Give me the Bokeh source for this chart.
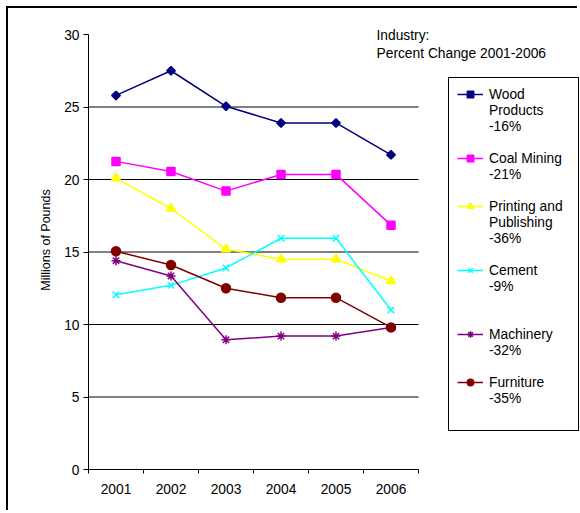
import math
from bokeh.plotting import figure
from bokeh.models import Range1d, FixedTicker, Legend, LegendItem, Label
from bokeh.embed import file_html
from bokeh.resources import INLINE

years = ["2001", "2002", "2003", "2004", "2005", "2006"]
wood = [25.8, 27.5, 25.05, 23.9, 23.9, 21.7]
coal = [21.25, 20.55, 19.2, 20.35, 20.35, 16.85]
printing = [20.1, 18.0, 15.2, 14.5, 14.5, 13.0]
cement = [12.05, 12.7, 13.9, 15.95, 15.95, 11.0]
machinery = [14.4, 13.35, 8.95, 9.2, 9.2, 9.8]
furniture = [15.05, 14.1, 12.5, 11.85, 11.85, 9.8]

legend_labels = ["Wood\nProducts\n-16%", "Coal Mining\n-21%", "Printing and\u00a0\u00a0\nPublishing\n-36%",
                 "Cement\n-9%", "Machinery\n-32%", "Furniture\n-35%"]
y_ticks = [0, 5, 10, 15, 20, 25, 30]
grid_ticks = [5, 10, 15, 20, 25]
y_max = 30

FONT = "Liberation Sans"
FS = "13.8px"

# layout (canvas pixels; canvas starts at page (8, 8))
W, H = 571, 504
LEFT, TOP, AXIS_Y, Y30 = 80, 2, 461, 26
CAT_W = 55
n = len(years)
x_end = (W - LEFT) / CAT_W
y_end = y_max * (AXIS_Y - TOP) / (AXIS_Y - Y30)

p = figure(width=W, height=H, output_backend="svg", toolbar_location=None,
           x_range=Range1d(0, x_end), y_range=Range1d(0, y_end),
           min_border_left=LEFT, min_border_right=0, min_border_top=TOP,
           min_border_bottom=H - AXIS_Y)
p.outline_line_color = None
p.background_fill_color = "white"
p.border_fill_color = "white"
p.styles = {"border-left": "2px solid black", "border-top": "2px solid black",
            "margin-left": "6px", "margin-top": "6px"}

centres = [i + 0.5 for i in range(n)]

xa = p.xaxis[0]
xa.bounds = (0, n)
xa.ticker = FixedTicker(ticks=centres, minor_ticks=list(range(n + 1)))
xa.major_label_overrides = {c: y for c, y in zip(centres, years)}
xa.major_tick_out = 0
xa.major_tick_in = 0
xa.minor_tick_out = 4
xa.minor_tick_in = 0
xa.minor_tick_line_color = "black"
xa.axis_line_color = "black"
xa.major_label_standoff = 10
xa.major_label_text_font = FONT
xa.major_label_text_font_size = FS
xa.major_label_text_color = "black"

ya = p.yaxis[0]
ya.bounds = (0, y_max)
ya.ticker = FixedTicker(ticks=y_ticks, minor_ticks=[])
ya.major_tick_out = 5
ya.major_tick_in = 0
ya.major_tick_line_color = "black"
ya.axis_line_color = "black"
ya.major_label_standoff = 4
ya.major_label_text_font = FONT
ya.major_label_text_font_size = FS
ya.major_label_text_color = "black"
ya.axis_label = "Millions of Pounds"
ya.axis_label_text_font = FONT
ya.axis_label_text_font_size = "12.5px"
ya.axis_label_text_font_style = "normal"
ya.axis_label_text_color = "black"
ya.axis_label_standoff = 8

p.xgrid.visible = False
p.ygrid.visible = False
p.segment(x0=[0] * len(grid_ticks), x1=[n] * len(grid_ticks), y0=grid_ticks, y1=grid_ticks,
          line_color="black", line_width=1)

series = [
    (wood, "#000080", "square", 6, math.pi / 4),
    (coal, "#FF00FF", "square", 8, 0),
    (printing, "#FFFF00", "triangle", 9, 0),
    (cement, "#00FFFF", "x", 9, 0),
    (machinery, "#800080", "asterisk", 9, 0),
    (furniture, "#800000", "circle", 9, 0),
]
blank_after = [1, 1, 1, 2, 1, 1]   # spacer rows in the legend

items = []
for (vals, color, marker, size, ang), lab, gap in zip(series, legend_labels, blank_after):
    ln = p.line(centres, vals, line_color=color, line_width=1.5)
    mk = p.scatter(centres, vals, marker=marker, size=size, angle=ang, fill_color=color,
                   line_color=color, line_width=1.5)
    lines = lab.split("\n")
    items.append(LegendItem(label=lines[0], renderers=[ln, mk]))
    for extra in lines[1:]:
        items.append(LegendItem(label=extra, renderers=[]))
    for _ in range(gap):
        items.append(LegendItem(label=" ", renderers=[]))

legend = Legend(items=items, location=(360, 38), orientation="vertical",
                label_text_font=FONT, label_text_font_size=FS, label_text_color="black",
                glyph_width=26, glyph_height=16, label_height=16, label_standoff=6,
                padding=8, spacing=0, margin=0,
                border_line_color="black", border_line_width=1, border_line_alpha=1,
                background_fill_color="white", background_fill_alpha=1)
p.add_layout(legend, "center")

title = Label(x=288, y=442, x_units="screen", y_units="screen",
              text="Industry:\nPercent Change 2001-2006",
              text_font=FONT, text_font_size=FS, text_color="black",
              text_baseline="top", text_align="left", text_line_height=1.25)
p.add_layout(title)

open("out.html", "w").write(file_html(p, INLINE))
